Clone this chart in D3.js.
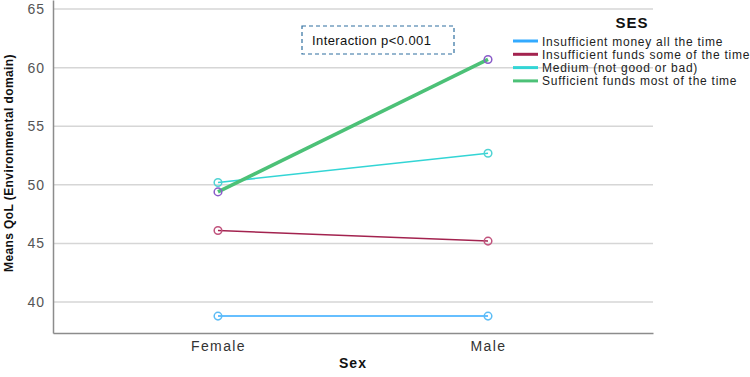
<!DOCTYPE html>
<html>
<head>
<meta charset="utf-8">
<script src="https://cdn.jsdelivr.net/npm/d3@7"></script>
<style>
  html, body { margin: 0; padding: 0; background: #fff; }
  svg { display: block; font-family: Arial, "Liberation Sans", sans-serif; }
</style>
</head>
<body>
<svg id="chart" width="750" height="377"></svg>
<script>
// ── Data ──────────────────────────────────────────────────────────────────────
const sexes = ["Female", "Male"];
const sesGroups = [
  "Insufficient money all the time",
  "Insufficient funds some of the time",
  "Medium (not good or bad)",
  "Sufficient funds most of the time",
];
const moneyAllTime = [38.8, 38.8];
const fundsSomeTime = [46.1, 45.2];
const mediumSes = [50.2, 52.7];
const sufficientFunds = [49.4, 60.7];
const yTicks = [40, 45, 50, 55, 60, 65];

const lineColors = ["#33aaff", "#a3234f", "#33d5d5", "#4cc177"];
const markerColors = ["#5cbcf5", "#c0527c", "#4fd3d3", "#8a5cc9"];
const lineWidths = [1.5, 1.5, 1.5, 3.5];

const seriesValues = [moneyAllTime, fundsSomeTime, mediumSes, sufficientFunds];

// ── Layout ────────────────────────────────────────────────────────────────────
const svg = d3.select("#chart");
const plotLeft = 53, plotRight = 653, plotTop = 0, plotBottom = 333;

const x = d3.scalePoint().domain(sexes).range([plotLeft, plotRight]).padding(0.611);
const y = d3.scaleLinear().domain([37.36, 65.77]).range([plotBottom, plotTop]);

// gridlines
svg.append("g")
  .selectAll("line")
  .data(yTicks)
  .join("line")
  .attr("x1", plotLeft).attr("x2", plotRight)
  .attr("y1", (d) => y(d)).attr("y2", (d) => y(d))
  .attr("stroke", "#d6d6d6")
  .attr("stroke-width", 1.5);

// axes
const yAxis = svg.append("g")
  .attr("transform", `translate(${plotLeft},0)`)
  .call(d3.axisLeft(y).tickValues(yTicks).tickSize(0).tickPadding(8));
yAxis.select(".domain").attr("stroke", "#8c8c8c").attr("stroke-width", 1.5);
yAxis.selectAll("text")
  .attr("font-size", 14).attr("letter-spacing", 1)
  .attr("fill", "#555").attr("font-family", "Arial, 'Liberation Sans', sans-serif");

const xAxis = svg.append("g")
  .attr("transform", `translate(0,${plotBottom})`)
  .call(d3.axisBottom(x).tickSize(0).tickPadding(8));
xAxis.select(".domain").attr("stroke", "#8c8c8c").attr("stroke-width", 1.5);
xAxis.selectAll("text")
  .attr("font-size", 14).attr("letter-spacing", 1.4)
  .attr("fill", "#333").attr("font-family", "Arial, 'Liberation Sans', sans-serif");

// axis titles
svg.append("text")
  .attr("transform", "translate(13,163) rotate(-90)")
  .attr("text-anchor", "middle")
  .attr("font-size", 12)
  .attr("letter-spacing", 0.4)
  .attr("font-weight", "bold")
  .attr("fill", "#111")
  .text("Means QoL (Environmental domain)");

svg.append("text")
  .attr("x", 353).attr("y", 368)
  .attr("text-anchor", "middle")
  .attr("font-size", 14)
  .attr("letter-spacing", 1)
  .attr("font-weight", "bold")
  .attr("fill", "#111")
  .text("Sex");

// ── Series ────────────────────────────────────────────────────────────────────
const line = d3.line().x((d, i) => x(sexes[i])).y((d) => y(d));

seriesValues.forEach((vals, s) => {
  svg.append("path")
    .datum(vals)
    .attr("d", line)
    .attr("fill", "none")
    .attr("stroke", lineColors[s])
    .attr("stroke-width", lineWidths[s]);
});

seriesValues.forEach((vals, s) => {
  svg.append("g")
    .selectAll("circle")
    .data(vals)
    .join("circle")
    .attr("cx", (d, i) => x(sexes[i]))
    .attr("cy", (d) => y(d))
    .attr("r", 3.8)
    .attr("fill", "none")
    .attr("stroke", markerColors[s])
    .attr("stroke-width", 1.5);
});

// ── Annotation ────────────────────────────────────────────────────────────────
svg.append("rect")
  .attr("x", 302).attr("y", 26)
  .attr("width", 152).attr("height", 28)
  .attr("fill", "#fff")
  .attr("stroke", "#2f6f9f")
  .attr("stroke-width", 1.2)
  .attr("stroke-dasharray", "4,3");

svg.append("text")
  .attr("x", 312).attr("y", 45)
  .attr("font-size", 13)
  .attr("letter-spacing", 0.4)
  .attr("fill", "#111")
  .text("Interaction p<0.001");

// ── Legend ────────────────────────────────────────────────────────────────────
svg.append("text")
  .attr("x", 632).attr("y", 28)
  .attr("text-anchor", "middle")
  .attr("font-size", 15)
  .attr("letter-spacing", 1)
  .attr("font-weight", "bold")
  .attr("fill", "#111")
  .text("SES");

const legend = svg.append("g")
  .selectAll("g")
  .data(sesGroups)
  .join("g")
  .attr("transform", (d, i) => `translate(513,${41 + i * 13.3})`);

legend.append("line")
  .attr("x1", 0).attr("x2", 25)
  .attr("stroke", (d, i) => lineColors[i])
  .attr("stroke-width", 3);

legend.append("text")
  .attr("x", 29).attr("y", 4.5)
  .attr("font-size", 12)
  .attr("letter-spacing", 0.75)
  .attr("fill", "#222")
  .text((d) => d);
</script>
</body>
</html>
